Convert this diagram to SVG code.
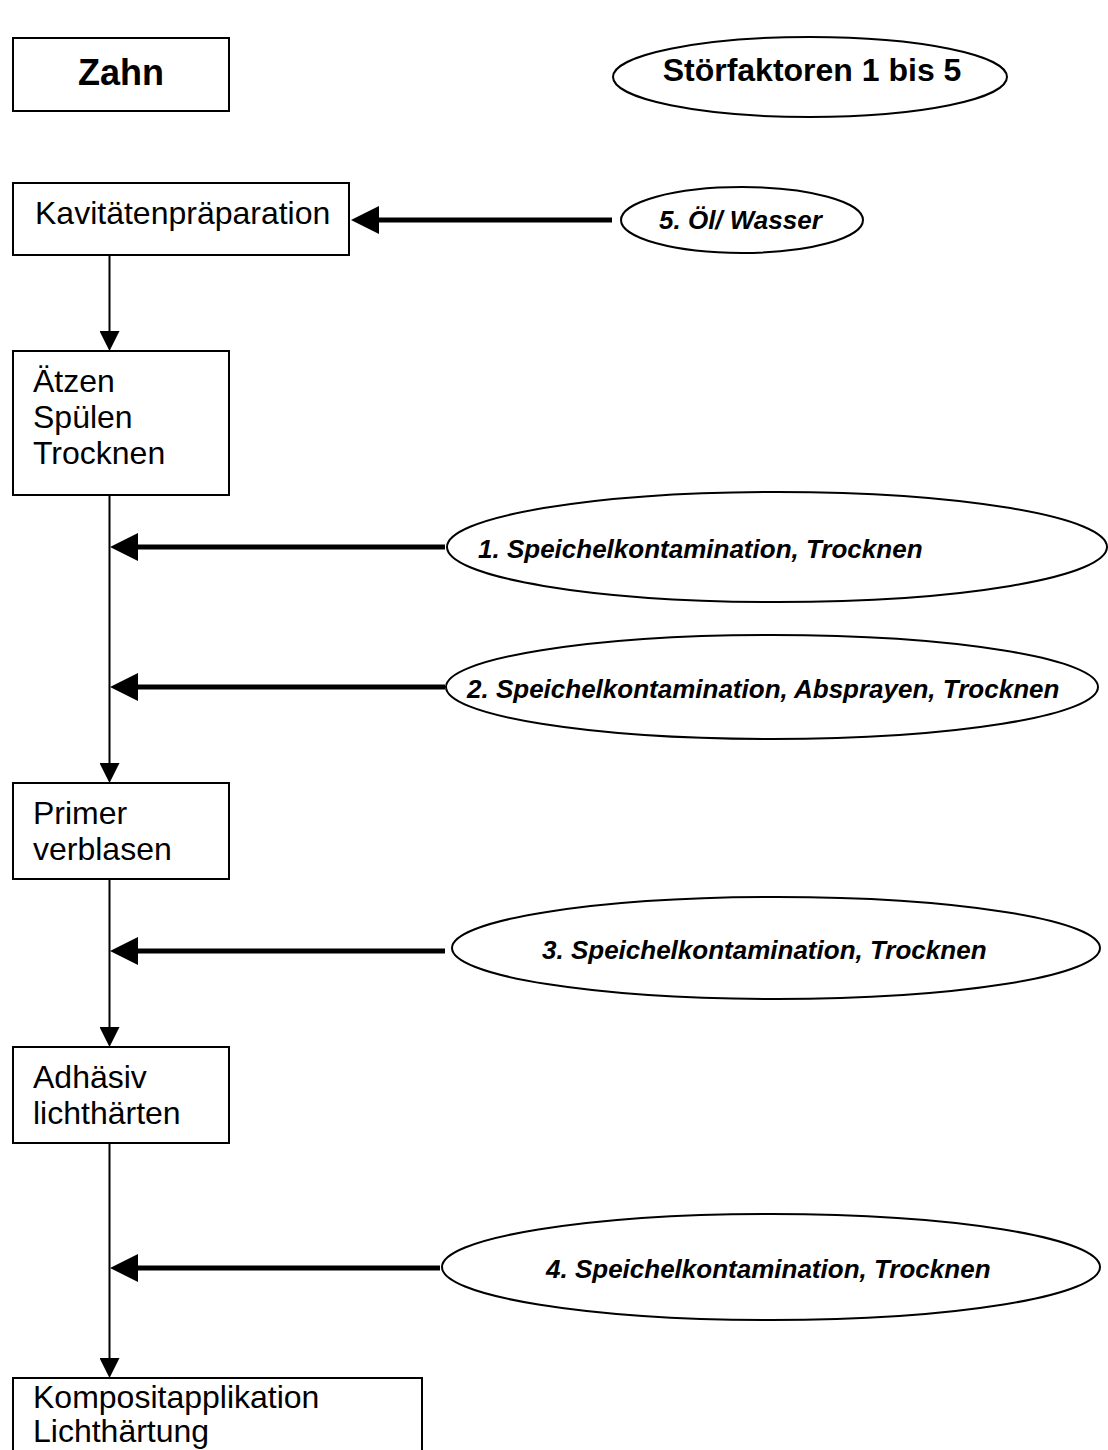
<svg xmlns="http://www.w3.org/2000/svg" width="1108" height="1450" viewBox="0 0 1108 1450">
<style>
.box{fill:#fff;stroke:#000;stroke-width:2}
.ov{fill:#fff;stroke:#000;stroke-width:2}
.t{font-family:"Liberation Sans",Arial,sans-serif;font-size:32px;fill:#000}
.h{font-family:"Liberation Sans",Arial,sans-serif;font-size:36px;font-weight:bold;fill:#000}
.i{font-family:"Liberation Sans",Arial,sans-serif;font-size:26px;font-weight:bold;font-style:italic;fill:#000}
.thin{stroke:#000;stroke-width:2;fill:none}
.thick{stroke:#000;stroke-width:5;fill:none}
</style>
<defs>
<marker id="ah" markerUnits="userSpaceOnUse" markerWidth="20" markerHeight="20" refX="0" refY="10" orient="auto">
<path d="M0,0 L20,10 L0,20 z" fill="#000"/>
</marker>
<marker id="ahb" markerUnits="userSpaceOnUse" markerWidth="28" markerHeight="28" refX="0" refY="14" orient="auto">
<path d="M0,0 L28,14 L0,28 z" fill="#000"/>
</marker>
</defs>
<rect width="1108" height="1450" fill="#fff"/>
<g id="connectors">
<line class="thin" x1="109.5" y1="255" x2="109.5" y2="331" marker-end="url(#ah)"/>
<line class="thin" x1="109.5" y1="495" x2="109.5" y2="763" marker-end="url(#ah)"/>
<line class="thin" x1="109.5" y1="879" x2="109.5" y2="1027" marker-end="url(#ah)"/>
<line class="thin" x1="109.5" y1="1143" x2="109.5" y2="1358" marker-end="url(#ah)"/>
<line class="thick" x1="612" y1="220" x2="379" y2="220" marker-end="url(#ahb)"/>
<line class="thick" x1="445" y1="547" x2="138" y2="547" marker-end="url(#ahb)"/>
<line class="thick" x1="445" y1="687" x2="138" y2="687" marker-end="url(#ahb)"/>
<line class="thick" x1="445" y1="951" x2="138" y2="951" marker-end="url(#ahb)"/>
<line class="thick" x1="440" y1="1268" x2="138" y2="1268" marker-end="url(#ahb)"/>
</g>
<g id="zahn">
<rect class="box" x="13" y="38" width="216" height="73"/>
<text class="h" x="121" y="85" text-anchor="middle">Zahn</text>
</g>
<g id="stoerfaktoren">
<ellipse class="ov" cx="810" cy="77" rx="197" ry="40"/>
<text class="h" x="812" y="81" text-anchor="middle" style="font-size:32px">Störfaktoren 1 bis 5</text>
</g>
<g id="kavitaet">
<rect class="box" x="13" y="183" width="336" height="72"/>
<text class="t" x="35" y="224">Kavitätenpräparation</text>
</g>
<g id="stoer5">
<ellipse class="ov" cx="742" cy="220" rx="121" ry="33"/>
<text class="i" x="659" y="229">5. Öl/ Wasser</text>
</g>
<g id="aetzen">
<rect class="box" x="13" y="351" width="216" height="144"/>
<text class="t" x="33" y="392">Ätzen</text>
<text class="t" x="33" y="428">Spülen</text>
<text class="t" x="33" y="464">Trocknen</text>
</g>
<g id="stoer1">
<ellipse class="ov" cx="777" cy="547" rx="330" ry="55"/>
<text class="i" x="478" y="558">1. Speichelkontamination, Trocknen</text>
</g>
<g id="stoer2">
<ellipse class="ov" cx="772" cy="687" rx="326" ry="52"/>
<text class="i" x="467" y="698">2. Speichelkontamination, Absprayen, Trocknen</text>
</g>
<g id="primer">
<rect class="box" x="13" y="783" width="216" height="96"/>
<text class="t" x="33" y="824">Primer</text>
<text class="t" x="33" y="860">verblasen</text>
</g>
<g id="stoer3">
<ellipse class="ov" cx="776" cy="948" rx="324" ry="51"/>
<text class="i" x="542" y="959">3. Speichelkontamination, Trocknen</text>
</g>
<g id="adhaesiv">
<rect class="box" x="13" y="1047" width="216" height="96"/>
<text class="t" x="33" y="1088">Adhäsiv</text>
<text class="t" x="33" y="1124">lichthärten</text>
</g>
<g id="stoer4">
<ellipse class="ov" cx="771" cy="1267" rx="329" ry="53"/>
<text class="i" x="546" y="1278">4. Speichelkontamination, Trocknen</text>
</g>
<g id="komposit">
<rect class="box" x="13" y="1378" width="409" height="90"/>
<text class="t" x="33" y="1408">Kompositapplikation</text>
<text class="t" x="33" y="1442">Lichthärtung</text>
</g>
</svg>
